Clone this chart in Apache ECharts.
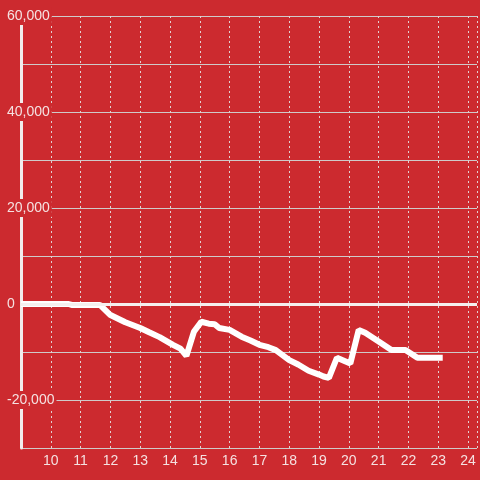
<!DOCTYPE html>
<html>
<head>
<meta charset="utf-8">
<script src="https://cdn.jsdelivr.net/npm/echarts@6/dist/echarts.min.js"></script>
<style>
  html, body { margin: 0; padding: 0; background: #cc2a2f; }
  #chart { width: 480px; height: 480px; }
</style>
</head>
<body>
<div id="chart"></div>
<script>
// hours of the day and running total
const hours = [9, 10, 10.6, 10.7, 11.0, 11.65, 12.0, 12.5, 13.0, 13.3, 13.65, 14.1, 14.35, 14.55, 14.8, 15.05, 15.3, 15.5, 15.65, 16.0, 16.4, 16.7, 17.0, 17.3, 17.55, 18.0, 18.3, 18.65, 19.0, 19.15, 19.33, 19.6, 20.05, 20.33, 20.55, 21.0, 21.43, 21.9, 22.3, 22.6, 23.15];
const totals = [0, 0, 0, -200, -200, -200, -2300, -3800, -5000, -5900, -6900, -8500, -9300, -10800, -5800, -3700, -4100, -4200, -5000, -5400, -6800, -7600, -8500, -9000, -9600, -11700, -12600, -13900, -14700, -15100, -15400, -11200, -12400, -5400, -6000, -7800, -9600, -9600, -11200, -11200, -11200];
const yLabelEvery = 20000;

const bg = '#cc2a2f';
const txt = '#f5e1e1';

const chart = echarts.init(document.getElementById('chart'));
chart.setOption({
  backgroundColor: bg,
  animation: false,
  textStyle: { fontFamily: 'Liberation Sans, Arial, sans-serif' },
  grid: { left: 21, right: 0, top: 16, bottom: 32 },
  xAxis: {
    type: 'value',
    min: 9,
    max: 24.3,
    interval: 1,
    axisLine: { show: false },
    axisTick: { show: false },
    axisLabel: {
      color: txt,
      fontSize: 14,
      margin: 6,
      formatter: v => (Number.isInteger(v) && v > 9) ? String(v) : ''
    },
    splitLine: { show: true, lineStyle: { color: '#e2d2d2', type: [2, 3], width: 1 } }
  },
  yAxis: {
    type: 'value',
    min: -30000,
    max: 60000,
    interval: 10000,
    axisLine: { show: true, lineStyle: { color: '#f2ecec', width: 3 } },
    axisTick: { show: false },
    axisLabel: {
      align: 'left',
      margin: 16,
      formatter: v => v % yLabelEvery === 0 ? '{a|' + v.toLocaleString('en-US') + '}' : '',
      rich: {
        a: { color: txt, fontSize: 14, backgroundColor: bg, padding: [2, 2, 2, 2] }
      }
    },
    splitLine: { show: true, lineStyle: { color: '#cfcaca', width: 1 } }
  },
  series: [{
    type: 'line',
    data: hours.map((h, i) => [h, totals[i]]),
    showSymbol: false,
    lineStyle: { color: '#ffffff', width: 6 },
    markLine: {
      silent: true,
      symbol: 'none',
      label: { show: false },
      lineStyle: { color: '#f5efef', width: 3, type: 'solid' },
      data: [{ yAxis: 0 }]
    },
    z: 3
  }]
});
</script>
</body>
</html>
